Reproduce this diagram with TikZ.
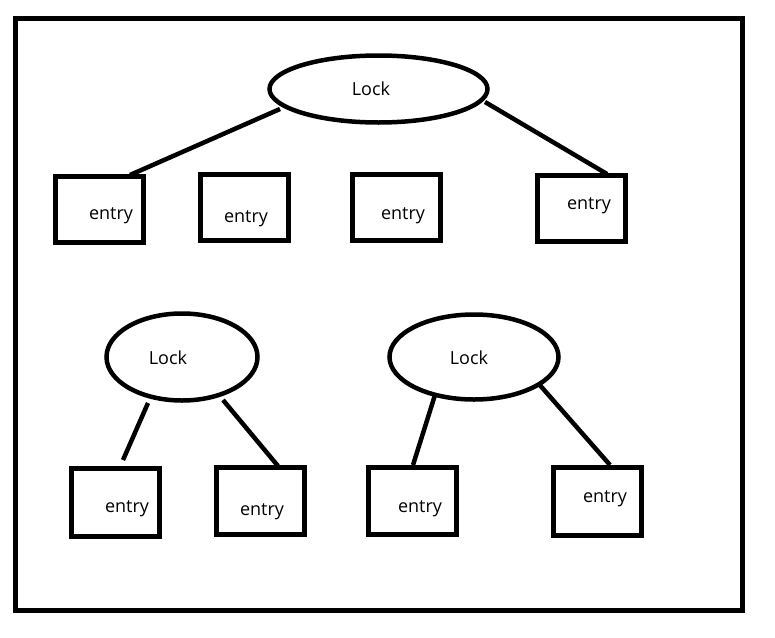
\documentclass[tikz,border=0pt]{standalone}
\usepackage{fontspec}
\setmainfont{Open Sans}
\usetikzlibrary{shapes.geometric}
\begin{document}
\begin{tikzpicture}[x=1pt,y=-1pt,
  lockshape/.style={draw,ellipse,line width=4.5pt,inner sep=0pt,outer sep=0pt},
  entrybox/.style={draw,rectangle,line width=5pt,minimum width=88pt,minimum height=66pt,inner sep=0pt,outer sep=0pt},
  txt/.style={inner sep=0pt,font=\fontsize{18}{21}\selectfont},
  link/.style={line width=4.5pt}]
\useasboundingbox (0,0) rectangle (775,637);
\node[draw,rectangle,line width=5pt,minimum width=727pt,minimum height=592pt,inner sep=0pt] (frame) at (379,314.5) {};
% locks
\node[lockshape,minimum width=218pt,minimum height=67pt] (L1) at (378.5,89) {};
\node[lockshape,minimum width=151pt,minimum height=87pt] (L2) at (182,357) {};
\node[lockshape,minimum width=169pt,minimum height=85pt] (L3) at (474,357) {};
\node[txt] (t1) at (371,88.5) {Lock};
\node[txt] (t2) at (168,357.5) {Lock};
\node[txt] (t3) at (469,357.5) {Lock};
% boxes
\node[entrybox] (b1) at (99.5,209.5) {};
\node[entrybox] (b2) at (244.5,207.5) {};
\node[entrybox] (b3) at (396.5,207.5) {};
\node[entrybox] (b4) at (581.5,208.5) {};
\node[entrybox,minimum height=68pt] (b5) at (115.5,502.5) {};
\node[entrybox,minimum height=67pt] (b6) at (260.5,501) {};
\node[entrybox,minimum height=67pt] (b7) at (412.5,501) {};
\node[entrybox,minimum height=68pt] (b8) at (597.5,501.5) {};
\node[txt] (e1) at (111,216) {entry};
\node[txt] (e2) at (246,219) {entry};
\node[txt] (e3) at (403,216) {entry};
\node[txt] (e4) at (589,206) {entry};
\node[txt] (e5) at (127,509) {entry};
\node[txt] (e6) at (262,512) {entry};
\node[txt] (e7) at (420,509) {entry};
\node[txt] (e8) at (605,499) {entry};
% connector ends
\coordinate (s1) at (280,109);
\coordinate (f1) at (130,175);
\coordinate (s2) at (485,102);
\coordinate (f2) at (607,174);
\coordinate (s3) at (148,403);
\coordinate (f3) at (123,460);
\coordinate (s4) at (223,400);
\coordinate (f4) at (278,466);
\coordinate (s5) at (435,395);
\coordinate (f5) at (413,465);
\coordinate (s6) at (538,383);
\coordinate (f6) at (610,465);
\draw[link] (s1) -- (f1);
\draw[link] (s2) -- (f2);
\draw[link] (s3) -- (f3);
\draw[link] (s4) -- (f4);
\draw[link] (s5) -- (f5);
\draw[link] (s6) -- (f6);
\end{tikzpicture}
\end{document}
